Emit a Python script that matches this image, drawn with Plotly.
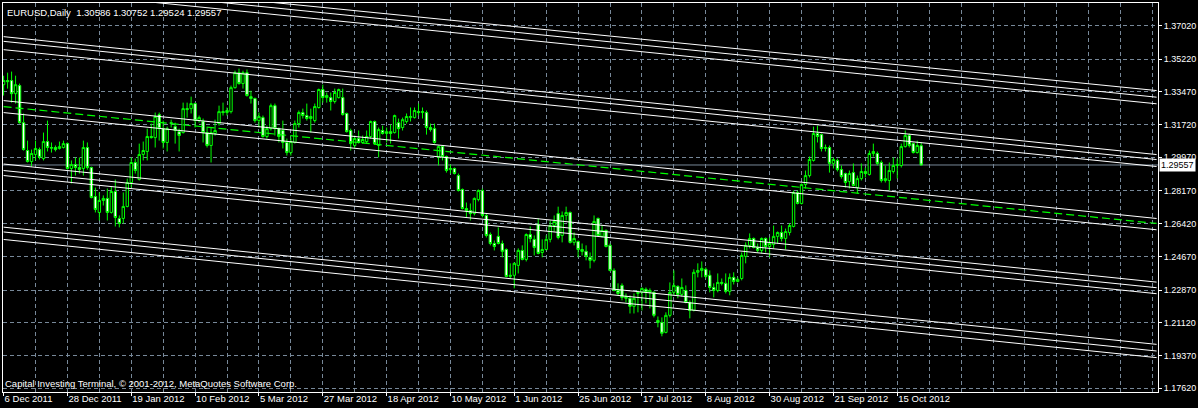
import plotly.graph_objects as go

SYMBOL = "EURUSD"
PERIOD = "Daily"

OPEN = [1.3385,1.3407,1.3407,1.3337,1.3380,1.3182,1.3033,1.2974,1.3012,1.3038,
1.2990,1.3081,1.3049,1.3049,1.3044,1.3049,1.3070,1.2937,1.2958,1.2942,
1.2937,1.3049,1.2942,1.2787,1.2702,1.2766,1.2777,1.2702,1.2814,1.2670,
1.2670,1.2734,1.2862,1.2969,1.2878,1.3012,1.3028,1.3108,1.3102,1.3225,
1.3150,1.3076,1.3182,1.3161,1.3134,1.3129,1.3257,1.3257,1.3284,1.3193,
1.3188,1.3129,1.3060,1.3124,1.3177,1.3241,1.3236,1.3241,1.3369,1.3449,
1.3391,1.3449,1.3321,1.3311,1.3193,1.3209,1.3108,1.3150,1.3273,1.3150,
1.3140,1.3076,1.3022,1.3076,1.3177,1.3236,1.3220,1.3204,1.3193,1.3263,
1.3359,1.3316,1.3316,1.3295,1.3316,1.3316,1.3231,1.3140,1.3060,1.3097,
1.3076,1.3081,1.3108,1.3188,1.3060,1.3140,1.3124,1.3134,1.3129,1.3182,
1.3156,1.3188,1.3209,1.3209,1.3241,1.3236,1.3236,1.3156,1.3150,1.2996,
1.3054,1.3001,1.2931,1.2937,1.2899,1.2825,1.2723,1.2712,1.2696,1.2771,
1.2819,1.2686,1.2584,1.2536,1.2574,1.2536,1.2504,1.2360,1.2366,1.2419,
1.2499,1.2451,1.2584,1.2558,1.2638,1.2488,1.2504,1.2558,1.2632,1.2696,
1.2579,1.2686,1.2702,1.2542,1.2547,1.2504,1.2494,1.2462,1.2446,1.2670,
1.2574,1.2606,1.2526,1.2392,1.2285,1.2312,1.2253,1.2243,1.2200,1.2269,
1.2275,1.2291,1.2275,1.2275,1.2125,1.2114,1.2061,1.2152,1.2275,1.2307,
1.2264,1.2285,1.2221,1.2178,1.2382,1.2392,1.2398,1.2366,1.2301,1.2285,
1.2328,1.2323,1.2280,1.2355,1.2333,1.2349,1.2467,1.2526,1.2563,1.2515,
1.2499,1.2563,1.2520,1.2531,1.2574,1.2595,1.2563,1.2595,1.2627,1.2809,
1.2750,1.2851,1.2899,1.2980,1.3124,1.3118,1.3044,1.3049,1.2964,1.2980,
1.2931,1.2910,1.2867,1.2915,1.2835,1.2883,1.2921,1.2905,1.3017,1.3017,
1.2969,1.2873,1.2873,1.2921,1.2953,1.2953,1.3054,1.3113,1.3070,1.3022,
1.30586]

HIGH = [1.3433,1.3449,1.3455,1.3433,1.3391,1.3231,1.3086,1.3038,1.3086,1.3049,
1.3129,1.3193,1.3076,1.3060,1.3081,1.3086,1.3076,1.2980,1.2996,1.2996,
1.3086,1.3076,1.2947,1.2835,1.2809,1.2793,1.2830,1.2841,1.2878,1.2686,
1.2809,1.2883,1.2996,1.2990,1.3070,1.3081,1.3150,1.3177,1.3236,1.3236,
1.3193,1.3161,1.3198,1.3182,1.3150,1.3289,1.3289,1.3321,1.3289,1.3220,
1.3204,1.3156,1.3156,1.3198,1.3273,1.3289,1.3263,1.3380,1.3460,1.3471,
1.3460,1.3466,1.3353,1.3316,1.3236,1.3220,1.3166,1.3284,1.3284,1.3156,
1.3193,1.3097,1.3102,1.3193,1.3247,1.3257,1.3284,1.3257,1.3284,1.3364,
1.3385,1.3343,1.3343,1.3364,1.3364,1.3364,1.3236,1.3150,1.3113,1.3140,
1.3113,1.3140,1.3193,1.3193,1.3156,1.3166,1.3156,1.3172,1.3225,1.3204,
1.3209,1.3231,1.3263,1.3263,1.3284,1.3263,1.3247,1.3177,1.3177,1.3060,
1.3060,1.3006,1.2958,1.2942,1.2910,1.2830,1.2755,1.2750,1.2782,1.2825,
1.2830,1.2696,1.2595,1.2552,1.2622,1.2552,1.2510,1.2430,1.2435,1.2510,
1.2526,1.2590,1.2627,1.2579,1.2670,1.2558,1.2579,1.2659,1.2686,1.2733,
1.2707,1.2733,1.2707,1.2595,1.2552,1.2536,1.2526,1.2488,1.2686,1.2675,
1.2632,1.2611,1.2536,1.2403,1.2323,1.2323,1.2269,1.2259,1.2269,1.2285,
1.2301,1.2301,1.2296,1.2280,1.2146,1.2141,1.2168,1.2328,1.2392,1.2312,
1.2349,1.2312,1.2232,1.2398,1.2430,1.2440,1.2408,1.2392,1.2323,1.2376,
1.2349,1.2376,1.2376,1.2382,1.2355,1.2488,1.2542,1.2590,1.2568,1.2536,
1.2568,1.2568,1.2568,1.2632,1.2600,1.2632,1.2616,1.2643,1.2819,1.2819,
1.2857,1.2926,1.3001,1.3161,1.3166,1.3124,1.3065,1.3060,1.2996,1.2990,
1.2953,1.2915,1.2926,1.2964,1.2899,1.2964,1.2942,1.3033,1.3070,1.3028,
1.2980,1.2953,1.2969,1.2996,1.2990,1.3070,1.3140,1.3124,1.3076,1.3086,
1.30752]

LOW = [1.3327,1.3364,1.3289,1.3284,1.3177,1.3033,1.2969,1.2947,1.2980,1.2985,
1.2980,1.3028,1.3022,1.3028,1.3038,1.3044,1.2931,1.2857,1.2899,1.2910,
1.2899,1.2931,1.2777,1.2702,1.2659,1.2739,1.2659,1.2696,1.2627,1.2622,
1.2643,1.2729,1.2835,1.2910,1.2873,1.2980,1.2980,1.3097,1.3049,1.3086,
1.3044,1.3028,1.3156,1.3070,1.3028,1.3124,1.3209,1.3231,1.3156,1.3182,
1.3076,1.3049,1.2969,1.3113,1.3166,1.3220,1.3220,1.3231,1.3364,1.3385,
1.3364,1.3321,1.3284,1.3182,1.3156,1.3102,1.3097,1.3140,1.3113,1.3076,
1.3044,1.3006,1.3006,1.3070,1.3156,1.3204,1.3193,1.3129,1.3182,1.3257,
1.3289,1.3289,1.3247,1.3284,1.3311,1.3220,1.3129,1.3033,1.3044,1.3070,
1.3070,1.3070,1.3097,1.3065,1.2996,1.3118,1.3076,1.3070,1.3124,1.3097,
1.3140,1.3177,1.3188,1.3204,1.3220,1.3204,1.3118,1.3134,1.3070,1.2953,
1.2980,1.2915,1.2910,1.2905,1.2814,1.2718,1.2675,1.2659,1.2686,1.2761,
1.2675,1.2568,1.2526,1.2499,1.2531,1.2462,1.2355,1.2349,1.2296,1.2376,
1.2446,1.2440,1.2542,1.2472,1.2478,1.2462,1.2499,1.2542,1.2600,1.2558,
1.2542,1.2659,1.2536,1.2526,1.2462,1.2472,1.2446,1.2403,1.2435,1.2574,
1.2568,1.2515,1.2387,1.2280,1.2259,1.2232,1.2221,1.2162,1.2162,1.2168,
1.2178,1.2216,1.2189,1.2141,1.2088,1.2040,1.2056,1.2141,1.2259,1.2243,
1.2253,1.2216,1.2136,1.2173,1.2355,1.2355,1.2349,1.2275,1.2248,1.2275,
1.2312,1.2269,1.2259,1.2317,1.2328,1.2339,1.2430,1.2510,1.2510,1.2488,
1.2483,1.2488,1.2462,1.2510,1.2536,1.2547,1.2504,1.2579,1.2622,1.2745,
1.2745,1.2830,1.2889,1.2974,1.3076,1.3028,1.3028,1.2915,1.2937,1.2921,
1.2883,1.2835,1.2830,1.2841,1.2803,1.2873,1.2889,1.2899,1.3001,1.2953,
1.2862,1.2862,1.2819,1.2910,1.2883,1.2942,1.3049,1.3049,1.3017,1.3017,
1.29524]

CLOSE = [1.3407,1.3401,1.3337,1.3385,1.3182,1.3038,1.2974,1.3017,1.3044,1.2996,
1.3081,1.3049,1.3046,1.3038,1.3054,1.3070,1.2937,1.2958,1.2942,1.2931,
1.3049,1.2942,1.2782,1.2718,1.2766,1.2777,1.2702,1.2814,1.2675,1.2643,
1.2734,1.2862,1.2969,1.2926,1.3012,1.3033,1.3108,1.3102,1.3215,1.3150,
1.3076,1.3150,1.3177,1.3140,1.3113,1.3257,1.3252,1.3284,1.3193,1.3209,
1.3129,1.3060,1.3129,1.3140,1.3241,1.3236,1.3247,1.3369,1.3449,1.3391,
1.3449,1.3327,1.3311,1.3193,1.3215,1.3108,1.3150,1.3273,1.3150,1.3108,
1.3076,1.3022,1.3081,1.3177,1.3236,1.3220,1.3204,1.3215,1.3268,1.3359,
1.3316,1.3327,1.3295,1.3343,1.3359,1.3225,1.3134,1.3070,1.3097,1.3076,
1.3092,1.3108,1.3188,1.3070,1.3145,1.3124,1.3134,1.3124,1.3220,1.3150,
1.3198,1.3215,1.3215,1.3247,1.3236,1.3241,1.3156,1.3145,1.3076,1.3054,
1.3001,1.2926,1.2937,1.2910,1.2819,1.2723,1.2712,1.2696,1.2777,1.2819,
1.2686,1.2579,1.2536,1.2520,1.2536,1.2494,1.2360,1.2366,1.2430,1.2499,
1.2451,1.2584,1.2563,1.2515,1.2483,1.2504,1.2558,1.2632,1.2654,1.2568,
1.2686,1.2702,1.2542,1.2563,1.2504,1.2494,1.2467,1.2446,1.2654,1.2579,
1.2606,1.2520,1.2392,1.2285,1.2269,1.2248,1.2243,1.2200,1.2243,1.2275,
1.2296,1.2275,1.2285,1.2152,1.2114,1.2056,1.2152,1.2275,1.2312,1.2264,
1.2301,1.2221,1.2178,1.2382,1.2392,1.2403,1.2360,1.2301,1.2285,1.2328,
1.2323,1.2280,1.2355,1.2333,1.2344,1.2472,1.2526,1.2563,1.2515,1.2499,
1.2563,1.2520,1.2536,1.2574,1.2595,1.2563,1.2600,1.2632,1.2809,1.2750,
1.2851,1.2899,1.2985,1.3124,1.3108,1.3044,1.3049,1.2964,1.2985,1.2931,
1.2894,1.2862,1.2910,1.2846,1.2883,1.2921,1.2910,1.3017,1.3028,1.2964,
1.2873,1.2883,1.2926,1.2953,1.2958,1.3054,1.3113,1.3060,1.3022,1.3060,
1.29557]

# date labels every 16 bars
TICK_BARS = [0, 16, 32, 48, 64, 80, 96, 112, 128, 144, 160, 176, 192, 208, 224]
TICK_LABELS = ["6 Dec 2011", "28 Dec 2011", "19 Jan 2012", "10 Feb 2012", "5 Mar 2012",
               "27 Mar 2012", "18 Apr 2012", "10 May 2012", "1 Jun 2012", "25 Jun 2012",
               "17 Jul 2012", "8 Aug 2012", "30 Aug 2012", "21 Sep 2012", "15 Oct 2012"]
GRID_STEP_BARS = 8

PRICE_TICKS = [1.37020, 1.35220, 1.33470, 1.31720, 1.29970, 1.28170,
               1.26420, 1.24670, 1.22870, 1.21120, 1.19370, 1.17620]

# channel lines: price at bar 0 and at the end bar
CHANNEL_END_BAR = 289
CHANNEL_START = [1.39680, 1.39423, 1.39065,
                 1.36417, 1.36166, 1.35722,
                 1.33000, 1.32679, 1.32358,
                 1.29608, 1.29261, 1.28994,
                 1.26233, 1.25977, 1.25576]
CHANNEL_END = [1.33536, 1.33181, 1.32828,
               1.30115, 1.29848, 1.29475,
               1.26698, 1.26431, 1.26094,
               1.23296, 1.22997, 1.22677,
               1.19969, 1.19612, 1.19259]
CHANNEL_IS_MEDIAN = [False, False, False, False, False, False,
                     False, True, False, False, False, False,
                     False, False, False]

X_RANGE = [-0.15, 289.35]
Y_RANGE = [1.17422, 1.38216]

FONT = "Liberation Sans, Arial, sans-serif"
GRID = "#778899"
LIME = "#00FF00"

n = len(CLOSE)
bars = list(range(n))

fig = go.Figure()
fig.add_trace(go.Candlestick(
    x=bars, open=OPEN, high=HIGH, low=LOW, close=CLOSE,
    increasing=dict(line=dict(color=LIME, width=1), fillcolor="#000000"),
    decreasing=dict(line=dict(color=LIME, width=1), fillcolor="#FFFFFF"),
    whiskerwidth=0, hoverinfo="skip", showlegend=False,
))

for s, e, med in zip(CHANNEL_START, CHANNEL_END, CHANNEL_IS_MEDIAN):
    fig.add_trace(go.Scatter(
        x=[0, CHANNEL_END_BAR], y=[s, e], mode="lines",
        line=dict(color=LIME if med else "#FFFFFF", width=1.2 if med else 1,
                  dash="8px,4px" if med else "solid"),
        hoverinfo="skip", showlegend=False,
    ))

last = CLOSE[-1]
fig.add_shape(type="line", xref="paper", x0=0, x1=1, yref="y", y0=last, y1=last,
              line=dict(color=GRID, width=1), layer="below")

title = f"{SYMBOL},{PERIOD}\u00a0\u00a0{OPEN[-1]:.5f} {HIGH[-1]:.5f} {LOW[-1]:.5f} {CLOSE[-1]:.5f}"
fig.add_annotation(xref="paper", yref="paper", x=0, y=1, xanchor="left", yanchor="top",
                   xshift=2, yshift=-2, text=title, showarrow=False,
                   font=dict(family=FONT, size=9.5, color="#FFFFFF"))
fig.add_annotation(xref="paper", yref="paper", x=0, y=0, xanchor="left", yanchor="bottom",
                   xshift=0, yshift=1,
                   text="Capital Investing Terminal, \u00a9 2001-2012, MetaQuotes Software Corp.",
                   showarrow=False, font=dict(family=FONT, size=9.5, color="#FFFFFF"))
fig.add_annotation(xref="paper", yref="y", x=1, y=last, xanchor="left", yanchor="middle",
                   xshift=1, text=f"{last:.5f}", showarrow=False, bgcolor="#FFFFFF",
                   borderpad=1, font=dict(family=FONT, size=9, color="#000000"))

fig.update_layout(
    width=1198, height=408,
    margin=dict(l=3, r=37, t=2, b=16),
    paper_bgcolor="#000000", plot_bgcolor="#000000",
    hovermode=False, showlegend=False,
    boxgap=0.25, boxgroupgap=0.2,
    font=dict(family=FONT, size=9, color="#FFFFFF"),
    xaxis=dict(
        range=X_RANGE, tickmode="array", tickvals=TICK_BARS, ticktext=TICK_LABELS,
        ticks="outside", ticklen=3, tickcolor="#FFFFFF", tickwidth=1,
        ticklabelposition="outside right", ticklabelstandoff=-2,
        showline=True, mirror=True, linecolor="#FFFFFF", linewidth=1,
        showgrid=True, gridcolor=GRID, gridwidth=1, griddash="4px,3px",
        zeroline=False, rangeslider=dict(visible=False), fixedrange=True,
        tickfont=dict(family=FONT, size=9.5, color="#FFFFFF"),
        minor=dict(tickmode="linear", tick0=0, dtick=GRID_STEP_BARS, showgrid=True,
                   gridcolor=GRID, gridwidth=1, griddash="4px,3px", ticks=""),
    ),
    yaxis=dict(
        range=Y_RANGE, side="right", tickmode="array", tickvals=PRICE_TICKS,
        ticktext=[f"{v:.5f}" for v in PRICE_TICKS],
        ticks="outside", ticklen=3, tickcolor="#FFFFFF", tickwidth=1,
        showline=True, mirror=True, linecolor="#FFFFFF", linewidth=1,
        showgrid=True, gridcolor=GRID, gridwidth=1, griddash="4px,3px",
        zeroline=False, fixedrange=True,
        tickfont=dict(family=FONT, size=9, color="#FFFFFF"),
    ),
)

fig.write_html("out.html",
               config={"displayModeBar": False, "staticPlot": True},
               post_script="document.body.style.margin='0';document.body.style.padding='0';"
                           "document.documentElement.style.overflow='hidden';")
